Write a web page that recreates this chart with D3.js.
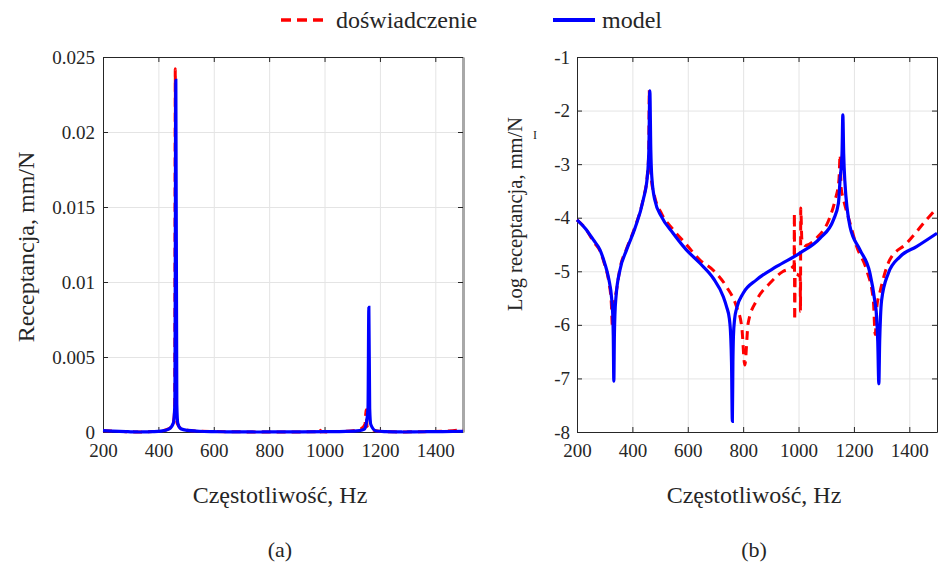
<!DOCTYPE html>
<html>
<head>
<meta charset="utf-8">
<script src="https://cdn.jsdelivr.net/npm/d3@7"></script>
<style>
  body { margin: 0; background: #fff; }
  svg text { font-family: "Times New Roman", "Liberation Serif", Tinos, "DejaVu Serif", serif !important; fill: #262626; }
</style>
</head>
<body>
<svg id="chart" width="938" height="565"></svg>
<script>
// Frequencies (Hz) and log10 receptance (mm/N)
const freqModel = [200, 230, 260, 283, 300, 315, 325, 329, 331, 333, 335, 337, 341, 355, 379, 409, 439, 454, 459.5, 463, 466.5, 470,
  481, 505, 547, 595, 644, 692, 728, 740, 750, 755, 758, 761, 763, 765, 769, 776, 800, 848, 921, 1005, 1078, 1126, 1144, 1150, 1157,
  1160, 1163, 1167, 1186, 1222, 1258, 1275, 1282, 1286, 1290, 1293, 1296, 1300, 1324, 1366, 1426, 1500];
const logModel = [-4.04, -4.2, -4.42, -4.6, -4.85, -5.15, -5.5, -5.8, -6.2, -7.05, -6.2, -5.8, -5.47, -4.98, -4.6, -4.2, -3.67, -3.23, -2.73, -1.63, -2.73, -3.23,
  -3.67, -3.98, -4.29, -4.6, -4.85, -5.13, -5.47, -5.66, -5.88, -6.2, -6.7, -7.8, -6.7, -6.2, -5.9, -5.7, -5.41, -5.16, -4.91, -4.66, -4.38, -4.04, -3.73, -3.29, -2.8,
  -2.08, -2.8, -3.3, -4.17, -4.6, -5.04, -5.54, -5.85, -6.3, -7.1, -6.3, -5.85, -5.54, -5.04, -4.73, -4.54, -4.29];

const freqExp = [200, 230, 260, 283, 300, 315, 324, 328, 332, 341, 355, 379, 409, 439, 454, 459, 461, 463, 468, 481,
  505, 547, 595, 644, 692, 740, 776, 795, 806, 818, 849, 897, 945, 976, 984, 985, 986, 988, 1006, 1007, 1008, 1012, 1025,
  1065, 1114, 1132, 1146, 1150, 1154, 1162, 1186, 1210, 1246, 1270, 1277, 1283, 1293, 1329, 1390, 1462, 1500];
const logExp = [-4.04, -4.2, -4.45, -4.62, -4.88, -5.2, -5.6, -6.05, -5.6, -5.4, -4.95, -4.58, -4.18, -3.65, -3.2, -2.8, -1.616, -2.8, -3.25, -3.62,
  -3.92, -4.22, -4.5, -4.79, -4.98, -5.29, -5.66, -6.04, -6.75, -5.97, -5.54, -5.22, -5.0, -4.93, -4.88, -3.92, -5.91, -5.05, -5.1, -5.75, -3.82, -4.4, -4.52,
  -4.38, -3.98, -3.67, -3.29, -2.83, -3.45, -3.65, -4.1, -4.54, -4.98, -5.54, -6.18, -5.65, -5.41, -4.79, -4.48, -4.04, -3.82];

const xTicks = [200, 400, 600, 800, 1000, 1200, 1400];
const yTicksA = [0, 0.005, 0.01, 0.015, 0.02, 0.025];
const yTickLabelsA = ["0", "0.005", "0.01", "0.015", "0.02", "0.025"];
const yTicksB = [-8, -7, -6, -5, -4, -3, -2, -1];
const yTickLabelsB = ["-8", "-7", "-6", "-5", "-4", "-3", "-2", "-1"];
const seriesNames = ["doświadczenie", "model"];

const svg = d3.select("#chart");
svg.append("rect").attr("width", 938).attr("height", 565).attr("fill", "#fff");

const plotTop = 57, plotBottom = 432, plotW = 360;
const red = "#ff0000", blue = "#0000ff";

function drawPanel(p) {
  const x = d3.scaleLinear().domain([200, 1500]).range([p.left, p.left + plotW]);
  const y = d3.scaleLinear().domain(p.yDomain).range([plotBottom, plotTop]);
  const g = svg.append("g");

  // Grid
  g.append("g")
    .attr("transform", `translate(0,${plotBottom})`)
    .call(d3.axisBottom(x).tickValues(xTicks).tickSize(-(plotBottom - plotTop)).tickFormat(""))
    .call(s => { s.select(".domain").remove(); s.selectAll("line").attr("stroke", "#e4e4e4"); });
  g.append("g")
    .attr("transform", `translate(${p.left},0)`)
    .call(d3.axisLeft(y).tickValues(p.yTicks).tickSize(-plotW).tickFormat(""))
    .call(s => { s.select(".domain").remove(); s.selectAll("line").attr("stroke", "#e4e4e4"); });

  // Axes with inward ticks on all four sides
  const styleAxis = s => {
    s.attr("font-family", null);
    s.select(".domain").attr("stroke", "#262626");
    s.selectAll(".tick line").attr("stroke", "#262626");
    s.selectAll("text").style("font-size", "19px").attr("fill", "#262626");
  };
  g.append("g")
    .attr("transform", `translate(0,${plotBottom})`)
    .call(d3.axisBottom(x).tickValues(xTicks).tickSizeInner(-5).tickSizeOuter(0).tickPadding(12).tickFormat(d => String(d)))
    .call(styleAxis);
  g.append("g")
    .attr("transform", `translate(0,${plotTop})`)
    .call(d3.axisTop(x).tickValues(xTicks).tickSizeInner(-5).tickSizeOuter(0).tickFormat(""))
    .call(styleAxis);
  g.append("g")
    .attr("transform", `translate(${p.left},0)`)
    .call(d3.axisLeft(y).tickValues(p.yTicks).tickSizeInner(-5).tickSizeOuter(0).tickPadding(p.tickPad)
      .tickFormat((d, i) => p.yLabels[i]))
    .call(styleAxis);
  const right = g.append("g")
    .attr("transform", `translate(${p.left + plotW},0)`)
    .call(d3.axisRight(y).tickValues(p.yTicks).tickSizeInner(-5).tickSizeOuter(0).tickFormat(""))
    .call(styleAxis);
  if (p.greyRight) right.select(".domain").attr("stroke", "#a8a8a8").attr("stroke-width", 3);

  // Curves
  const line = d3.line()
    .x(d => x(d[0]))
    .y(d => y(p.value(d[1])))
    .curve(d3.curveMonotoneX);

  g.append("path")
    .datum(d3.zip(freqExp, logExp))
    .attr("d", line)
    .attr("fill", "none")
    .attr("stroke", red)
    .attr("stroke-width", 3)
    .attr("stroke-dasharray", "9,6");

  g.append("path")
    .datum(d3.zip(freqModel, logModel))
    .attr("d", line)
    .attr("fill", "none")
    .attr("stroke", blue)
    .attr("stroke-width", 3.2);

  // Labels
  g.append("text")
    .attr("x", p.left + plotW / 2 - 3)
    .attr("y", 503)
    .attr("text-anchor", "middle")
    .style("font-size", "24px")
    .text("Częstotliwość, Hz");

  g.append("text")
    .attr("x", p.left + plotW / 2 - 3)
    .attr("y", 557)
    .attr("text-anchor", "middle")
    .style("font-size", "22px")
    .text(p.tag);

  g.append("text")
    .attr("transform", `translate(${p.yLabelX},${p.yLabelY}) rotate(-90)`)
    .attr("text-anchor", "middle")
    .style("font-size", p.yLabelSize)
    .text(p.yLabel);
}

drawPanel({
  left: 103,
  yDomain: [0, 0.025],
  yTicks: yTicksA,
  yLabels: yTickLabelsA,
  tickPad: 8,
  value: v => Math.pow(10, v),
  greyRight: true,
  tag: "(a)",
  yLabel: "Receptancja, mm/N",
  yLabelX: 34,
  yLabelY: 247,
  yLabelSize: "24px"
});

drawPanel({
  left: 577,
  yDomain: [-8, -1],
  yTicks: yTicksB,
  yLabels: yTickLabelsB,
  tickPad: 7,
  value: v => v,
  greyRight: false,
  tag: "(b)",
  yLabel: "Log receptancja, mm/N",
  yLabelX: 522,
  yLabelY: 214,
  yLabelSize: "20.5px"
});

// small stray mark next to the right y label
svg.append("text")
  .attr("x", 533)
  .attr("y", 139)
  .style("font-size", "12px")
  .text("I");

// Legend
const legend = svg.append("g");
legend.append("line")
  .attr("x1", 281).attr("x2", 323).attr("y1", 20).attr("y2", 20)
  .attr("stroke", red).attr("stroke-width", 3.5).attr("stroke-dasharray", "10,6");
legend.append("text")
  .attr("x", 336).attr("y", 28)
  .style("font-size", "24px")
  .text(seriesNames[0]);
legend.append("line")
  .attr("x1", 553).attr("x2", 595).attr("y1", 20).attr("y2", 20)
  .attr("stroke", blue).attr("stroke-width", 4);
legend.append("text")
  .attr("x", 602).attr("y", 28)
  .style("font-size", "24px")
  .text(seriesNames[1]);
</script>
</body>
</html>
